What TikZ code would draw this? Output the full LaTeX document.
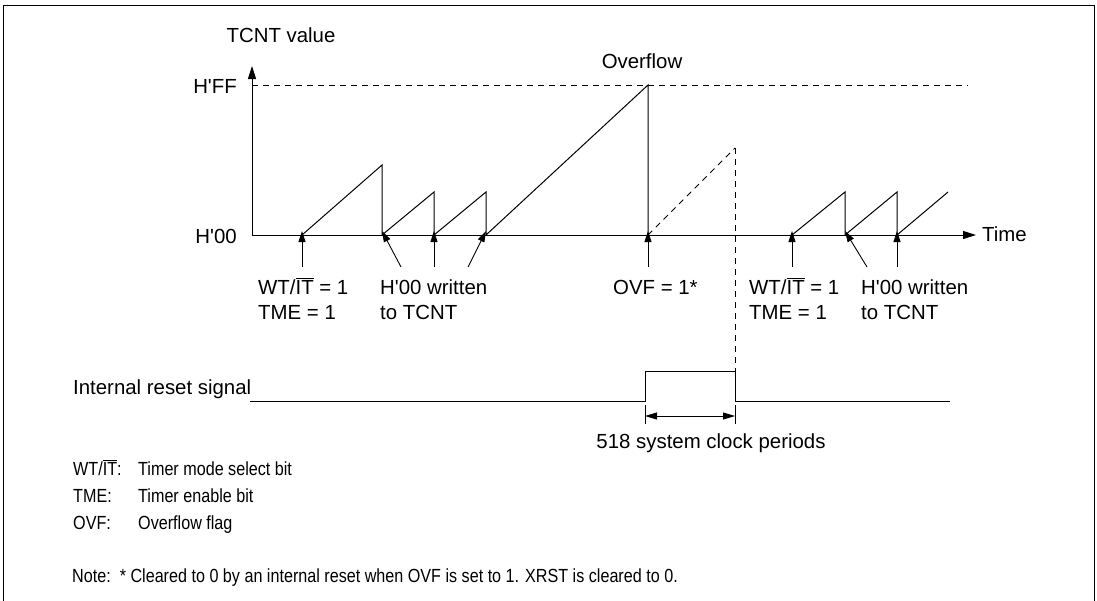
\documentclass[tikz,border=0pt]{standalone}
\usepackage{fontspec}
\setmainfont{Liberation Sans}[Ligatures=TeXOff]
\usetikzlibrary{arrows.meta}
\newcommand{\wtit}{WT/$\overline{\mbox{IT}}$}
\newcommand{\narrow}[1]{\scalebox{0.85}[1]{#1}}
\begin{document}
\begin{tikzpicture}[x=1pt,y=-1pt,
  font=\fontsize{20.4}{25}\selectfont,
  wave/.style={line width=1pt},
  axisline/.style={line width=1pt,-{Triangle[length=13pt,width=8pt]}},
  ptr/.style={line width=0.9pt,-{Triangle[length=11pt,width=7pt]}},
  dimline/.style={line width=0.9pt,{Triangle[length=12pt,width=7pt]}-{Triangle[length=12pt,width=7pt]}},
  guide/.style={line width=0.9pt,dash pattern=on 6pt off 5pt},
  lbl/.style={inner sep=0pt,align=left},
  leg/.style={inner sep=0pt,anchor=base west,font=\fontsize{19}{23}\selectfont},
]
\useasboundingbox (0,0) rectangle (1097,600);
% frame
\draw[line width=1pt] (3,602) -- (3,5) -- (1094,5) -- (1094,602);

% axes
\coordinate (o) at (252,235);
\coordinate (ytop) at (252,66);
\coordinate (xend) at (976,235);
\draw[axisline] (o) -- (ytop);
\draw[axisline] (o) -- (xend);
\node[lbl,anchor=base] (ylab) at (281,42) {TCNT value};
\node[lbl,anchor=base west] (tlab) at (982,241) {Time};
\node[lbl,anchor=east] (hff) at (237,86) {H'FF};
\node[lbl,anchor=east] (h00) at (237,236) {H'00};
\coordinate (ffa) at (252,85);
\coordinate (ffb) at (968,85);
\draw[guide] (ffa) -- (ffb);
\node[lbl,anchor=base] (ovf) at (642,68) {Overflow};

% counter waveform
\coordinate (s1) at (302,235);
\coordinate (p1) at (382,165);
\coordinate (r1) at (382,235);
\coordinate (p2) at (434,192);
\coordinate (r2) at (434,235);
\coordinate (p3) at (486,192);
\coordinate (r3) at (486,235);
\coordinate (p4) at (648,85);
\coordinate (r4) at (648,235);
\draw[wave] (s1) -- (p1) -- (r1) -- (p2) -- (r2) -- (p3) -- (r3) -- (p4) -- (r4);
\coordinate (pd) at (735,148);
\draw[guide] (r4) -- (pd);
\coordinate (s5) at (792,235);
\coordinate (p5) at (845,192);
\coordinate (r5) at (845,235);
\coordinate (p6) at (897,192);
\coordinate (r6) at (897,235);
\coordinate (p7) at (948,192);
\draw[wave] (s5) -- (p5) -- (r5) -- (p6) -- (r6) -- (p7);

% event pointers
\coordinate (a1) at (302,267);
\coordinate (a2) at (401,267);
\coordinate (a3) at (434,267);
\coordinate (a4) at (468,267);
\coordinate (a5) at (648,267);
\coordinate (a6) at (792,267);
\coordinate (a7) at (867,267);
\coordinate (a8) at (897,267);
\draw[ptr] (a1) -- ([yshift=4pt]s1);
\draw[ptr] (a2) -- ([yshift=4pt]r1);
\draw[ptr] (a3) -- ([yshift=4pt]r2);
\draw[ptr] (a4) -- ([yshift=4pt]r3);
\draw[ptr] (a5) -- ([yshift=4pt]r4);
\draw[ptr] (a6) -- ([yshift=4pt]s5);
\draw[ptr] (a7) -- ([yshift=4pt]r5);
\draw[ptr] (a8) -- ([yshift=4pt]r6);

\node[lbl,anchor=base west] (l1) at (258,319) {\wtit{} = 1\\TME = 1};
\node[lbl,anchor=base west] (l2) at (380,319) {H'00 written\\to TCNT};
\node[lbl,anchor=base west] (l3) at (613,294) {OVF = 1*};
\node[lbl,anchor=base west] (l4) at (749,319) {\wtit{} = 1\\TME = 1};
\node[lbl,anchor=base west] (l5) at (861,319) {H'00 written\\to TCNT};

% internal reset signal
\node[lbl,anchor=base west] (rst) at (73,394) {Internal reset signal};
\coordinate (q0) at (250,401);
\coordinate (q1) at (645,401);
\coordinate (q2) at (645,371);
\coordinate (q3) at (735,371);
\coordinate (q4) at (735,401);
\coordinate (q5) at (950,401);
\draw[wave] (q0) -- (q1) -- (q2) -- (q3) -- (q4) -- (q5);
\draw[guide] (pd) -- (q3);
\coordinate (t1a) at (645,405);
\coordinate (t1b) at (645,424);
\coordinate (t2a) at (735,405);
\coordinate (t2b) at (735,424);
\draw[line width=0.6pt] (t1a) -- (t1b);
\draw[line width=0.6pt] (t2a) -- (t2b);
\coordinate (d1) at (645,416);
\coordinate (d2) at (735,416);
\draw[dimline] (d1) -- (d2);
\node[lbl,anchor=base] (per) at (711,448) {518 system clock periods};

% legend
\node[leg] (g1) at (73,475) {\narrow{\wtit:}};
\node[leg] (g1d) at (138,475) {\narrow{Timer mode select bit}};
\node[leg] (g2) at (73,502) {\narrow{TME:}};
\node[leg] (g2d) at (138,502) {\narrow{Timer enable bit}};
\node[leg] (g3) at (73,529) {\narrow{OVF:}};
\node[leg] (g3d) at (138,529) {\narrow{Overflow flag}};
\node[leg] (note) at (72,582) {\narrow{Note:\ \ * Cleared to 0 by an internal reset when OVF is set to 1. XRST is cleared to 0.}};
\end{tikzpicture}
\end{document}
